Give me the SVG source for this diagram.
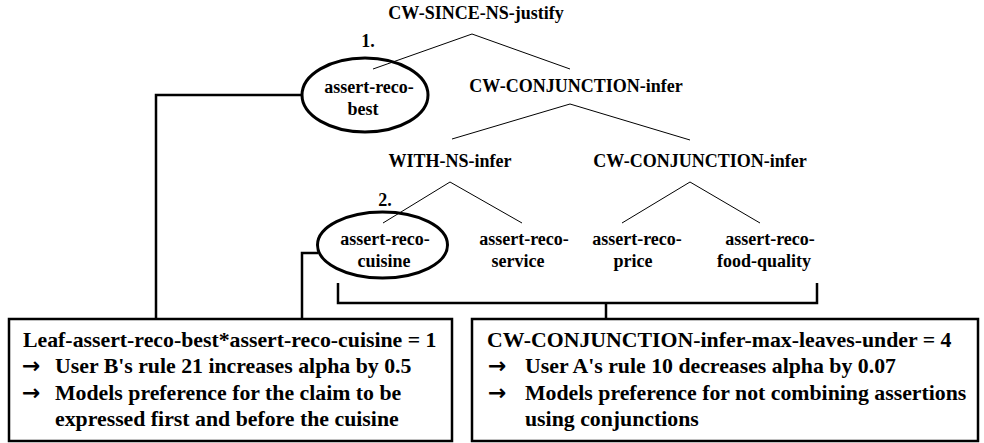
<svg xmlns="http://www.w3.org/2000/svg" width="984" height="443" viewBox="0 0 984 443">
<style>
text{font-family:"Liberation Serif","Times New Roman",serif;font-weight:700;fill:#000}
.t{font-size:18px;text-anchor:middle}
.b{font-size:21.8px}
.ar{font-family:"DejaVu Sans",sans-serif;font-size:22px}
.thin{stroke:#000;stroke-width:1;fill:none}
.thick{stroke:#000;stroke-width:2.5;fill:none}
.box{stroke:#000;stroke-width:2.5;fill:#fff}
.ell{stroke:#000;stroke-width:3;fill:none}
</style>
<rect width="984" height="443" fill="#fff"/>
<g id="connectors">
<path class="thin" d="M373 69 L472 34 L570 69"/>
<path class="thin" d="M452 139 L570 104 L690 140"/>
<path class="thin" d="M383 223 L450 182 L522 223"/>
<path class="thin" d="M622 223 L690 182 L760 223"/>
<path class="thick" d="M156 319 V95 H302"/>
<path class="thick" d="M302 319 V253 H318"/>
<path class="thick" d="M338 283 V303 H817 V283"/>
<path class="thick" d="M606 303 V319"/>
</g>
<g id="n-root"><text class="t" x="476" y="19">CW-SINCE-NS-justify</text></g>
<g id="n-best">
<text class="t" x="368" y="47">1.</text>
<ellipse class="ell" cx="365" cy="95" rx="63" ry="37"/>
<text class="t" x="369" y="93">assert-reco-</text>
<text class="t" x="363" y="115">best</text>
</g>
<g id="n-conj1"><text class="t" x="576" y="92">CW-CONJUNCTION-infer</text></g>
<g id="n-with"><text class="t" x="450" y="167">WITH-NS-infer</text></g>
<g id="n-conj2"><text class="t" x="700" y="167">CW-CONJUNCTION-infer</text></g>
<g id="n-cuisine">
<text class="t" x="385" y="206">2.</text>
<ellipse class="ell" cx="382.5" cy="245" rx="65" ry="33"/>
<text class="t" x="385" y="245">assert-reco-</text>
<text class="t" x="384" y="267">cuisine</text>
</g>
<g id="n-service">
<text class="t" x="524" y="245">assert-reco-</text>
<text class="t" x="518" y="267">service</text>
</g>
<g id="n-price">
<text class="t" x="637" y="245">assert-reco-</text>
<text class="t" x="633" y="267">price</text>
</g>
<g id="n-food">
<text class="t" x="770" y="245">assert-reco-</text>
<text class="t" x="764" y="267">food-quality</text>
</g>
<g id="box-left">
<rect class="box" x="9" y="319" width="443" height="122"/>
<text class="b" x="23" y="347">Leaf-assert-reco-best*assert-reco-cuisine = 1</text>
<text class="ar" x="22" y="373">→</text>
<text class="b" x="55" y="373">User B's rule 21 increases alpha by 0.5</text>
<text class="ar" x="22" y="400">→</text>
<text class="b" x="55" y="400">Models preference for the claim to be</text>
<text class="b" x="55" y="426">expressed first and before the cuisine</text>
</g>
<g id="box-right">
<rect class="box" x="472" y="319" width="506" height="122"/>
<text class="b" x="487" y="347">CW-CONJUNCTION-infer-max-leaves-under = 4</text>
<text class="ar" x="488" y="373">→</text>
<text class="b" x="525" y="373">User A's rule 10 decreases alpha by 0.07</text>
<text class="ar" x="488" y="400">→</text>
<text class="b" x="525" y="400">Models preference for not combining assertions</text>
<text class="b" x="525" y="426">using conjunctions</text>
</g>
</svg>
